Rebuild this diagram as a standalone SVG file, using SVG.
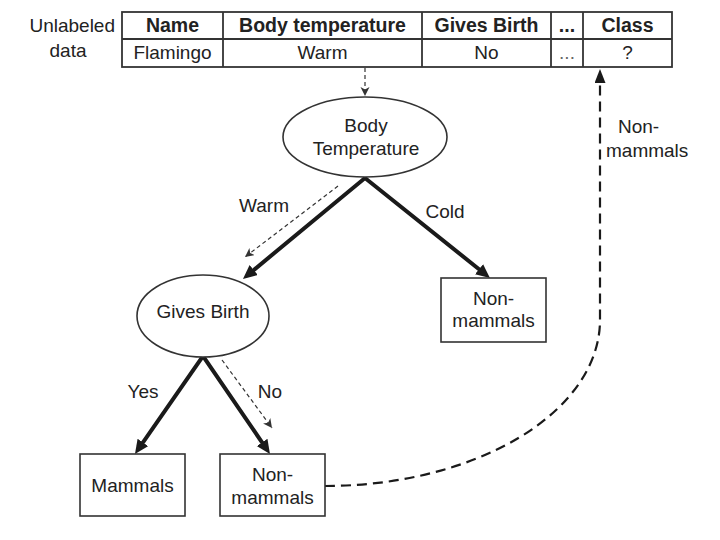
<svg xmlns="http://www.w3.org/2000/svg" width="720" height="540" viewBox="0 0 720 540">
<style>
text{font-family:"Liberation Sans",Arial,sans-serif;font-size:19px;fill:#222}
.b{font-weight:bold;font-size:19.5px}
.m{text-anchor:middle}
.box{fill:#fff;stroke:#333;stroke-width:1.6}
.tbl{fill:none;stroke:#333;stroke-width:1.8}
.thick{fill:none;stroke:#1a1a1a;stroke-width:4;stroke-linejoin:miter}
.thin{fill:none;stroke:#333;stroke-width:1.2;stroke-dasharray:4 3}
.ret{fill:none;stroke:#1a1a1a;stroke-width:2.2;stroke-dasharray:10 6}
</style>
<defs>
<marker id="ah" markerUnits="userSpaceOnUse" markerWidth="16" markerHeight="14" refX="2" refY="6.5" orient="auto-start-reverse">
<path d="M0,0 L14,6.5 L0,13 z" fill="#1a1a1a"/>
</marker>
<marker id="as" markerUnits="userSpaceOnUse" markerWidth="12" markerHeight="10" refX="9" refY="4.5" orient="auto">
<path d="M0,0 L9,4.5 L0,9 L2.5,4.5 z" fill="#333"/>
</marker>
<marker id="ar" markerUnits="userSpaceOnUse" markerWidth="16" markerHeight="14" refX="2" refY="5.5" orient="auto">
<path d="M0,0 L14,5.5 L0,11 z" fill="#1a1a1a"/>
</marker>
</defs>
<rect width="720" height="540" fill="#fff"/>

<g id="table">
<text x="115" y="32" text-anchor="end">Unlabeled</text>
<text x="68" y="57" class="m">data</text>
<rect class="tbl" x="122" y="12" width="550" height="55"/>
<line class="tbl" x1="122" y1="39" x2="672" y2="39"/>
<line class="tbl" x1="223" y1="12" x2="223" y2="67"/>
<line class="tbl" x1="422" y1="12" x2="422" y2="67"/>
<line class="tbl" x1="551" y1="12" x2="551" y2="67"/>
<line class="tbl" x1="583" y1="12" x2="583" y2="67"/>
<text x="172.5" y="32" class="m b">Name</text>
<text x="322.5" y="32" class="m b">Body temperature</text>
<text x="486.5" y="32" class="m b">Gives Birth</text>
<text x="567" y="32" class="m b">...</text>
<text x="627.5" y="32" class="m b">Class</text>
<text x="172.5" y="59" class="m">Flamingo</text>
<text x="322.5" y="59" class="m">Warm</text>
<text x="486.5" y="59" class="m">No</text>
<text x="567" y="59" class="m" style="fill:#666">...</text>
<text x="627.5" y="59" class="m">?</text>
</g>

<g id="connectors">
<line class="thin" x1="365" y1="68" x2="365" y2="96" marker-end="url(#as)"/>
<path class="thick" d="M252.2,271.3 L365,178 L480.6,270.5" marker-start="url(#ah)" marker-end="url(#ah)"/>
<path class="thick" d="M141.8,444.1 L203,356 L263.2,444.1" marker-start="url(#ah)" marker-end="url(#ah)"/>
<line class="thin" x1="338" y1="186" x2="245" y2="257" marker-end="url(#as)"/>
<line class="thin" x1="222" y1="360" x2="272" y2="428" marker-end="url(#as)"/>
<path class="ret" d="M325,486 A275,166 0 0 0 600,320 L600,81" marker-end="url(#ar)"/>
<text x="264" y="212" class="m">Warm</text>
<text x="445" y="218" class="m">Cold</text>
<text x="143" y="398" class="m">Yes</text>
<text x="270" y="398" class="m">No</text>
<text x="618" y="133">Non-</text>
<text x="606" y="157">mammals</text>
</g>

<g id="n-body-temp">
<ellipse class="box" cx="365" cy="137" rx="82" ry="40"/>
<text x="366" y="132" class="m">Body</text>
<text x="366" y="155" class="m">Temperature</text>
</g>

<g id="n-gives-birth">
<ellipse class="box" cx="203" cy="316" rx="66" ry="41"/>
<text x="203" y="318" class="m">Gives Birth</text>
</g>

<g id="n-nonmammals-cold">
<rect class="box" x="441" y="278" width="105" height="64"/>
<text x="493.5" y="305" class="m">Non-</text>
<text x="493.5" y="327" class="m">mammals</text>
</g>

<g id="n-mammals">
<rect class="box" x="80" y="454" width="105" height="62"/>
<text x="132.5" y="492" class="m">Mammals</text>
</g>

<g id="n-nonmammals-no">
<rect class="box" x="220" y="454" width="105" height="62"/>
<text x="272.5" y="481" class="m">Non-</text>
<text x="272.5" y="504" class="m">mammals</text>
</g>
</svg>
